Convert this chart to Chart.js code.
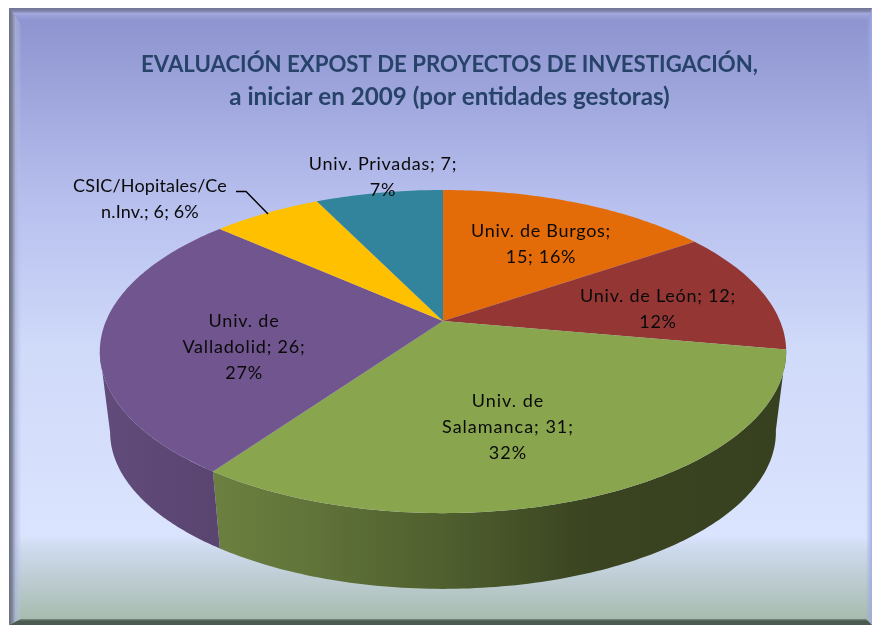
<!DOCTYPE html>
<html><head><meta charset="utf-8">
<style>html,body{margin:0;padding:0;background:#fff}canvas{display:block}</style>
<script src="https://cdn.jsdelivr.net/npm/chart.js@4/dist/chart.umd.min.js"></script>
</head><body><canvas id="c" width="872" height="625"></canvas>
<script>
const categories = ["Univ. de Burgos","Univ. de León","Univ. de Salamanca","Univ. de Valladolid","CSIC/Hopitales/Cen.Inv.","Univ. Privadas"];
const values = [15,12,31,26,6,7];
const sliceColors = ["#e36c09","#933634","#89a54e","#70558e","#ffc000","#31849b"];
const titleLine = "EVALUACIÓN EXPOST DE PROYECTOS DE INVESTIGACIÓN,";
const subtitleLine = "a iniciar en 2009 (por entidades gestoras)";
const labelLines = [
  ["Univ. de Burgos;","15; 16%"],
  ["Univ. de León; 12;","12%"],
  ["Univ. de","Salamanca; 31;","32%"],
  ["Univ. de","Valladolid; 26;","27%"],
  ["CSIC/Hopitales/Ce","n.Inv.; 6; 6%"],
  ["Univ. Privadas; 7;","7%"]
];
const labelCenters = [[541,231],[658,296],[508,401],[244,321],[150,186],[383,164]];
const labelTracking = [0.7,0.75,1.0,0.8,0.15,0.7];
const LABEL_LINE_H = 26;
const FONT = "Lato, Carlito, sans-serif";

const PERSP = 0.189, SQUASH = 0.4623, LOWER_SCALE = 0.97, DEPTH = 81.5, PIE_SHIFT_X = -6.5;
const SIDE_FROM = 100.2 * Math.PI/180, SIDE_TO = 259 * Math.PI/180;
const sideStops = {
  2: [[0,"#6f8542"],[0.16,"#6b8040"],[0.289,"#62753a"],[0.5,"#4f5f2e"],[0.718,"#3a4421"],[1,"#38411f"]],
  3: [[0,"#604b7a"],[0.16,"#5a4571"],[1,"#5a4571"]]
};

function project(p, th, lower){
  const a = Math.sin(th), b = -Math.cos(th), w = 1 - PERSP*b, s = lower ? LOWER_SCALE : 1;
  return [p.x + PIE_SHIFT_X + s*p.outerRadius*a/w,
          p.y + (lower ? DEPTH : 0) + s*p.outerRadius*SQUASH*b/w];
}
class Arc3D extends Chart.ArcElement {
  static id = "arc3d";
  draw(ctx){
    const p = this.getProps(["x","y","startAngle","endAngle","outerRadius"]);
    const t0 = p.startAngle + Math.PI/2, t1 = p.endAngle + Math.PI/2;
    const steps = Math.max(8, Math.ceil((t1-t0)*60));
    const idx = this.$context ? this.$context.index : 0;
    ctx.save();
    const from = Math.max(t0, SIDE_FROM), to = Math.min(t1, SIDE_TO);
    if (to > from && sideStops[idx]) {
      const g = ctx.createLinearGradient(p.x+PIE_SHIFT_X-p.outerRadius,0,p.x+PIE_SHIFT_X+p.outerRadius,0);
      sideStops[idx].forEach(s => g.addColorStop(s[0], s[1]));
      ctx.beginPath();
      for (let i=0;i<=steps;i++){ const q=project(p,from+(to-from)*i/steps,false); i?ctx.lineTo(q[0],q[1]):ctx.moveTo(q[0],q[1]); }
      for (let i=steps;i>=0;i--){ const q=project(p,from+(to-from)*i/steps,true); ctx.lineTo(q[0],q[1]); }
      ctx.closePath();
      ctx.fillStyle = g; ctx.fill();
    }
    ctx.beginPath();
    ctx.moveTo(p.x+PIE_SHIFT_X, p.y);
    for (let i=0;i<=steps;i++){ const q=project(p,t0+(t1-t0)*i/steps,false); ctx.lineTo(q[0],q[1]); }
    ctx.closePath();
    ctx.fillStyle = this.options.backgroundColor; ctx.fill();
    ctx.restore();
  }
}
class Pie3D extends Chart.PieController {
  static id = "pie3d";
  static defaults = { dataElementType: "arc3d" };
}
Chart.register(Arc3D, Pie3D);

const framePlugin = {
  id: "frame",
  beforeDraw(chart){
    const c = chart.ctx, L=9, T=8, R=872, B=625;
    c.save();
    c.fillStyle="#fff"; c.fillRect(0,0,872,625);
    const g = c.createLinearGradient(0,T,0,B);
    const y = v => (v-T)/(B-T);
    g.addColorStop(0,"#8b91cd"); g.addColorStop(y(200),"#b7bfee"); g.addColorStop(y(350),"#d0daf9");
    g.addColorStop(y(535),"#dae4fe"); g.addColorStop(y(550),"#cdd9ec"); g.addColorStop(y(620),"#a7bbae"); g.addColorStop(1,"#a7bbae");
    c.fillStyle=g; c.fillRect(L,T,R-L,B-T);
    const trap=(pts,fill)=>{c.beginPath();pts.forEach((q,i)=>i?c.lineTo(q[0],q[1]):c.moveTo(q[0],q[1]));c.closePath();c.fillStyle=fill;c.fill();};
    const top=c.createLinearGradient(0,T,0,T+16);
    top.addColorStop(0,"#6f7492");top.addColorStop(0.2,"#7f84ab");top.addColorStop(0.35,"#a4aade");top.addColorStop(1,"rgba(139,145,205,0)");
    trap([[L,T],[R,T],[R-6,T+16],[L+12,T+16]],top);
    const left=c.createLinearGradient(L,0,L+13,0);
    left.addColorStop(0,"rgba(105,112,130,1)");left.addColorStop(0.25,"rgba(125,130,150,0.95)");left.addColorStop(0.5,"rgba(170,178,215,0.7)");left.addColorStop(1,"rgba(190,200,240,0)");
    trap([[L,T],[L+12,T+16],[L+12,B-7],[L,B]],left);
    const right=c.createLinearGradient(R-6,0,R,0);
    right.addColorStop(0,"rgba(150,165,225,0)");right.addColorStop(1,"rgba(160,172,225,0.9)");
    trap([[R,T],[R-6,T+16],[R-6,B-7],[R,B]],right);
    const bot=c.createLinearGradient(0,B-6,0,B);
    bot.addColorStop(0,"rgba(90,105,95,0.6)");bot.addColorStop(0.35,"#4b5a50");bot.addColorStop(1,"#4b5a50");
    trap([[L,B],[L+12,B-6],[R-6,B-6],[R,B]],bot);
    c.restore();
  }
};
const labelPlugin = {
  id: "sliceLabels",
  afterDatasetsDraw(chart){
    const c = chart.ctx;
    c.save();
    c.strokeStyle="#000"; c.lineWidth=1.4;
    c.beginPath(); c.moveTo(236,191.5); c.lineTo(246,191.5); c.lineTo(268,214); c.stroke();
    c.font = "18px "+FONT; c.fillStyle="#0a0a0a"; c.textAlign="center"; c.textBaseline="middle";
    labelLines.forEach((lines,i)=>{
      c.letterSpacing = labelTracking[i]+"px";
      lines.forEach((t,j)=>c.fillText(t,labelCenters[i][0],labelCenters[i][1]+j*LABEL_LINE_H));
    });
    c.restore();
  }
};
new Chart(document.getElementById("c"),{
  type:"pie3d",
  data:{labels:categories,datasets:[{data:values,backgroundColor:sliceColors,clip:false,borderWidth:0}]},
  plugins:[framePlugin,labelPlugin],
  options:{
    responsive:false,animation:false,radius:337,
    layout:{padding:{left:27,right:0,top:0,bottom:94.6}},
    plugins:{
      legend:{display:false},tooltip:{enabled:false},
      title:{display:true,text:titleLine,color:"#27436a",align:"center",
        font:{family:FONT,size:22.2,weight:"bold",lineHeight:1.2},
        padding:{top:52,bottom:0}},
      subtitle:{display:true,text:subtitleLine,color:"#27436a",align:"center",
        font:{family:FONT,size:24.2,weight:"bold",lineHeight:1.2},
        padding:{top:4,bottom:0}}
    }
  }
});
</script></body></html>
